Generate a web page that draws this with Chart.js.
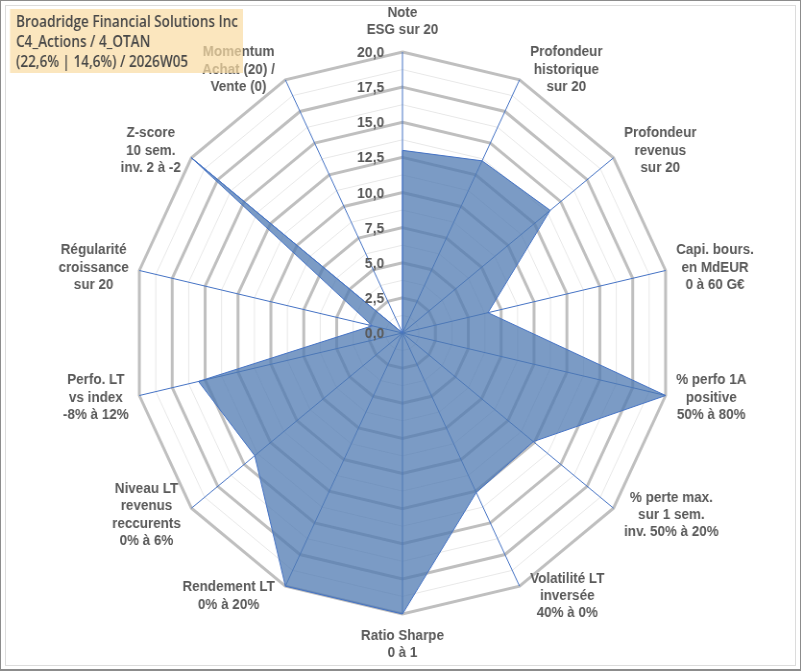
<!DOCTYPE html>
<html>
<head>
<meta charset="utf-8">
<script src="https://cdn.jsdelivr.net/npm/chart.js@4"></script>
<style>
  html, body { margin: 0; padding: 0; background: #fff; overflow: hidden; }
  #wrap { position: absolute; left: 0; top: 0; width: 834px; height: 671px; transform: scaleX(0.9605); transform-origin: 0 0; }
  .frame { position: absolute; pointer-events: none; box-sizing: border-box; }
  #outer { left: 0; top: 0; width: 801px; height: 671px; border: 1px solid #8c8c8c; border-bottom-width: 2px; }
  #inner { left: 5px; top: 5px; width: 791px; height: 661px; border: 1px solid #dcdcdc; }
</style>
</head>
<body>
<div id="wrap"><canvas id="radar" width="834" height="671"></canvas></div>
<div class="frame" id="outer"></div>
<div class="frame" id="inner"></div>
<script>
// Axis labels (one array per spoke, one string per line)
const axisLabels = [
    ['Note', 'ESG sur 20'],
    ['Profondeur', 'historique', 'sur 20'],
    ['Profondeur', 'revenus', 'sur 20'],
    ['Capi. bours.', 'en MdEUR', '0 à 60 G€'],
    ['% perfo 1A', 'positive', '50% à 80%'],
    ['% perte max.', 'sur 1 sem.', 'inv. 50% à 20%'],
    ['Volatilité LT', 'inversée', '40% à 0%'],
    ['Ratio Sharpe', '0 à 1'],
    ['Rendement LT', '0% à 20%'],
    ['Niveau LT', 'revenus', 'reccurents', '0% à 6%'],
    ['Perfo. LT', 'vs index', '-8% à 12%'],
    ['Régularité', 'croissance', 'sur 20'],
    ['Z-score', '10 sem.', 'inv. 2 à -2'],
    ['Momentum', 'Achat (20) /', 'Vente (0)']
];

// Scores on 20
const scores = [13.0, 13.6, 14.0, 6.5, 20.0, 12.4, 12.6, 20.0, 20.0, 14.0, 15.5, 2.3, 20.0, 0.0];

const tickValues = [0, 2.5, 5, 7.5, 10, 12.5, 15, 17.5, 20];
const tickLabels = ['0,0', '2,5', '5,0', '7,5', '10,0', '12,5', '15,0', '17,5', '20,0'];

const titleLines = [
    'Broadridge Financial Solutions Inc',
    'C4_Actions / 4_OTAN',
    '(22,6% | 14,6%) / 2026W05'
];

const SX = 0.9605;          // horizontal squash of the original picture
const labelFont = 'bold 14px "Liberation Sans", Arial, sans-serif';
const lineH = 17.4;

// Tick values, spoke labels and the title box
const overlayPlugin = {
    id: 'overlay',
    afterDatasetsDraw(chart) {
        const scale = chart.scales.r;
        const ctx = chart.ctx;
        ctx.save();
        ctx.fillStyle = '#595959';

        ctx.font = 'bold 14.5px "Liberation Sans", Arial, sans-serif';
        ctx.textAlign = 'right';
        ctx.textBaseline = 'middle';
        tickValues.forEach((v, i) => {
            const y = scale.yCenter - scale.getDistanceFromCenterForValue(v);
            ctx.fillText(tickLabels[i], scale.xCenter - 19, y + 1);
        });

        ctx.font = labelFont;
        ctx.textAlign = 'center';
        axisLabels.forEach((lines, i) => {
            const end = scale.getPointPosition(i, scale.drawingArea);
            const a = scale.getIndexAngle(i);
            const s = Math.sin(a), c = Math.cos(a);
            const w = Math.max(...lines.map(l => ctx.measureText(l).width));
            const h = lines.length * lineH;
            let cx, cy;
            if (Math.abs(s) < 0.1) {
                cx = end.x;
                cy = end.y - Math.sign(c) * (h / 2 + 13);
            } else {
                cx = end.x + Math.sign(s) * (w / 2 + 11);
                cy = end.y - c * 11;
            }
            lines.forEach((l, k) => ctx.fillText(l, cx, cy - h / 2 + lineH * (k + 0.5)));
        });
        ctx.restore();
    },
    afterDraw(chart) {
        const ctx = chart.ctx;
        ctx.save();
        ctx.fillStyle = 'rgba(250, 219, 162, 0.7)';
        ctx.fillRect(10 / SX, 9, 233 / SX, 64);

        ctx.font = '600 16.5px "Open Sans", "Noto Sans", sans-serif';
        ctx.fillStyle = '#474747';
        ctx.textAlign = 'left';
        ctx.textBaseline = 'middle';
        const fit = (222 / SX) / ctx.measureText(titleLines[0]).width;
        ctx.translate(16 / SX, 0);
        ctx.scale(fit, 1);
        titleLines.forEach((t, k) => ctx.fillText(t, 0, 22 + k * 20));
        ctx.restore();
    }
};

new Chart(document.getElementById('radar'), {
    type: 'radar',
    data: {
        labels: axisLabels,
        datasets: [{
            data: scores,
            backgroundColor: 'rgba(79, 122, 178, 0.75)',
            borderColor: '#4472C4',
            borderWidth: 1,
            pointRadius: 0,
            fill: true
        }]
    },
    options: {
        responsive: false,
        animation: false,
        devicePixelRatio: 1,
        layout: { padding: { top: 52, bottom: 57, left: 119, right: 115 } },
        plugins: { legend: { display: false }, tooltip: { enabled: false } },
        scales: {
            r: {
                min: 0,
                max: 20,
                ticks: { stepSize: 1.25, display: false },
                pointLabels: { display: false },
                angleLines: { color: '#4472C4', lineWidth: 1 },
                grid: {
                    color: ctx => (ctx.tick && ctx.tick.value % 2.5 === 0) ? '#bfbfbf' : '#e8e8e8',
                    lineWidth: ctx => (ctx.tick && ctx.tick.value % 2.5 === 0) ? 3 : 1
                }
            }
        }
    },
    plugins: [overlayPlugin]
});
</script>
</body>
</html>
